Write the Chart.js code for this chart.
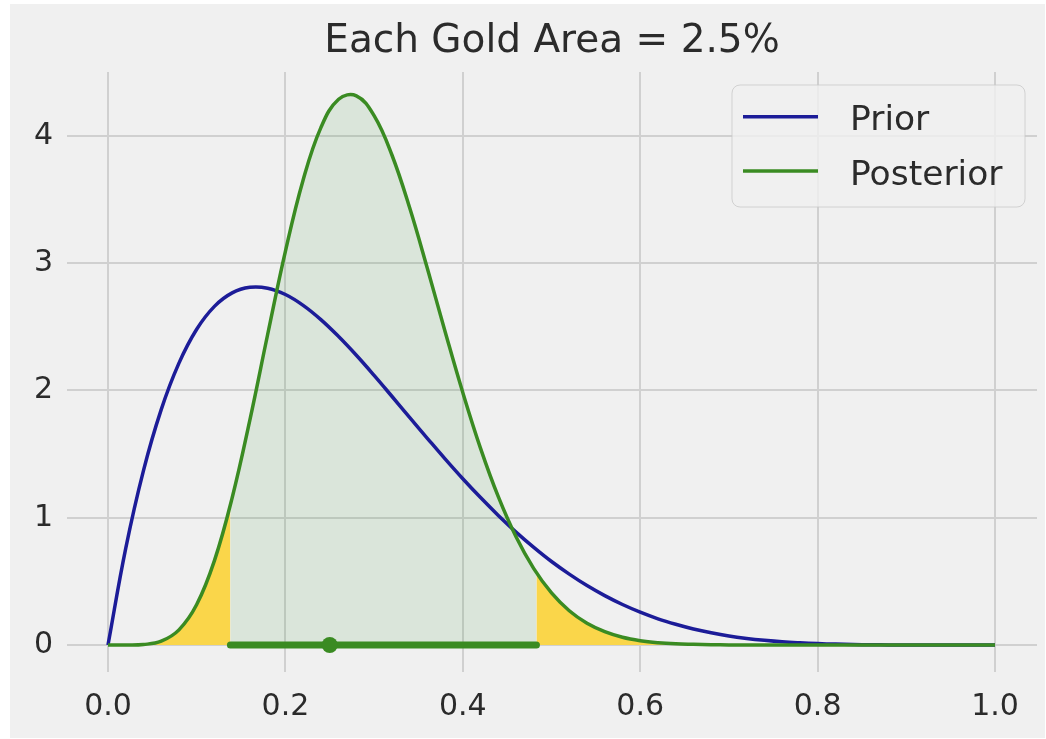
<!DOCTYPE html>
<html>
<head>
<meta charset="utf-8">
<script src="https://cdn.jsdelivr.net/npm/chart.js@4.4.1/dist/chart.umd.min.js"></script>
<style>
  html, body { margin: 0; padding: 0; background: #ffffff; }
  #frame { position: absolute; left: 10px; top: 4px; width: 1035px; height: 734px; background: #f0f0f0; }
  canvas { display: block; }
</style>
</head>
<body>
<div id="frame"><canvas id="c" width="1035" height="734"></canvas></div>
<script>
// Density curves sampled on a grid of proportions
const xs = [0.00, 0.02, 0.04, 0.06, 0.08, 0.10, 0.12, 0.14, 0.16, 0.18,
            0.20, 0.22, 0.24, 0.26, 0.28, 0.30, 0.32, 0.34, 0.36, 0.38,
            0.40, 0.42, 0.44, 0.46, 0.48, 0.50, 0.52, 0.54, 0.56, 0.58,
            0.60, 0.62, 0.64, 0.66, 0.68, 0.70, 0.72, 0.74, 0.76, 0.78,
            0.80, 0.82, 0.84, 0.86, 0.88, 0.90, 0.92, 0.94, 0.96, 0.98, 1.00];

const prior = [0.000, 0.759, 1.370, 1.849, 2.214, 2.480, 2.660, 2.766, 2.810, 2.803,
               2.753, 2.668, 2.556, 2.423, 2.276, 2.118, 1.954, 1.788, 1.624, 1.462,
               1.306, 1.158, 1.018, 0.887, 0.767, 0.656, 0.557, 0.467, 0.388, 0.318,
               0.258, 0.206, 0.163, 0.126, 0.096, 0.071, 0.052, 0.037, 0.025, 0.017,
               0.011, 0.007, 0.004, 0.002, 0.001, 0.000, 0.000, 0.000, 0.000, 0.000, 0.000];

const posterior = [0.000, 0.000, 0.004, 0.030, 0.119, 0.318, 0.663, 1.157, 1.769, 2.439,
                   3.092, 3.653, 4.064, 4.287, 4.314, 4.158, 3.851, 3.436, 2.959, 2.463,
                   1.983, 1.545, 1.165, 0.850, 0.600, 0.409, 0.269, 0.171, 0.105, 0.061,
                   0.034, 0.018, 0.009, 0.005, 0.002, 0.001, 0.000, 0.000, 0.000, 0.000,
                   0.000, 0.000, 0.000, 0.000, 0.000, 0.000, 0.000, 0.000, 0.000, 0.000, 0.000];

// 95% interval of the posterior and its point estimate
const ciLow = 0.138, ciHigh = 0.483;
const postAtLow = 1.10, postAtHigh = 0.57;
const pointEstimate = 0.25;

const xTicks = [0.0, 0.2, 0.4, 0.6, 0.8, 1.0];
const yTicks = [0, 1, 2, 3, 4];
const legendOrder = ['Prior', 'Posterior'];
const titleText = 'Each Gold Area = 2.5%';

const GREEN = '#3a8b22';
const BLUE = '#1c1c98';
const GOLD = '#fad64a';
const FONT = 'DejaVu Sans';
const TEXT = '#2b2b2b';

const toPoints = ys => xs.map((x, i) => ({ x: x, y: ys[i] }));
const postPts = toPoints(posterior);
const priorPts = toPoints(prior);

const leftTail = postPts.filter(p => p.x < ciLow).concat([{ x: ciLow, y: postAtLow }]);
const middle = [{ x: ciLow, y: postAtLow }]
  .concat(postPts.filter(p => p.x > ciLow && p.x < ciHigh))
  .concat([{ x: ciHigh, y: postAtHigh }]);
const rightTail = [{ x: ciHigh, y: postAtHigh }].concat(postPts.filter(p => p.x > ciHigh));

const area = (data, color, order) => ({
  data: data, fill: 'origin', backgroundColor: color, borderWidth: 0,
  pointRadius: 0, tension: 0.4, order: order
});

// Title centred over the plot area
const titlePlugin = {
  id: 'axesTitle',
  afterDraw(chart) {
    const { ctx, chartArea } = chart;
    ctx.save();
    ctx.font = '39px "' + FONT + '"';
    ctx.fillStyle = TEXT;
    ctx.textAlign = 'center';
    ctx.textBaseline = 'alphabetic';
    ctx.fillText(titleText, (chartArea.left + chartArea.right) / 2, 47.5);
    ctx.restore();
  }
};

// Framed legend in the upper right of the plot
const legendPlugin = {
  id: 'boxLegend',
  afterDraw(chart) {
    const { ctx } = chart;
    const items = legendOrder.map(name => chart.data.datasets.find(d => d.label === name));
    const x0 = 722, y0 = 81, w = 293, h = 122, r = 8;
    ctx.save();
    ctx.beginPath();
    ctx.roundRect(x0, y0, w, h, r);
    ctx.fillStyle = 'rgba(240,240,240,0.8)';
    ctx.fill();
    ctx.lineWidth = 1;
    ctx.strokeStyle = 'rgba(200,200,200,0.8)';
    ctx.stroke();
    ctx.font = '34.5px "' + FONT + '"';
    ctx.textBaseline = 'alphabetic';
    ctx.textAlign = 'left';
    items.forEach((d, i) => {
      const ly = 112.7 + i * 54.3;
      ctx.beginPath();
      ctx.moveTo(733, ly);
      ctx.lineTo(808, ly);
      ctx.lineWidth = 3.5;
      ctx.strokeStyle = d.borderColor;
      ctx.stroke();
      ctx.fillStyle = TEXT;
      ctx.fillText(d.label, 840, ly + 13.5);
    });
    ctx.restore();
  }
};

const gridCfg = { color: '#d0d0d0', lineWidth: 2, drawTicks: false };
const tickFont = { family: FONT, size: 30 };

new Chart(document.getElementById('c'), {
  type: 'line',
  data: {
    datasets: [
      { data: [{ x: pointEstimate, y: 0 }], showLine: false, pointRadius: 8,
        pointBackgroundColor: GREEN, pointBorderWidth: 0, order: 0 },
      { data: [{ x: ciLow, y: 0 }, { x: ciHigh, y: 0 }], borderColor: GREEN,
        borderWidth: 7, borderCapStyle: 'round', pointRadius: 0, order: 1 },
      { label: 'Posterior', data: postPts, borderColor: GREEN, borderWidth: 3.5,
        pointRadius: 0, tension: 0.4, fill: false, order: 2 },
      { label: 'Prior', data: priorPts, borderColor: BLUE, borderWidth: 3.5,
        pointRadius: 0, tension: 0.4, fill: false, order: 3 },
      area(leftTail, GOLD, 4),
      area(middle, 'rgba(34,139,34,0.1)', 5),
      area(rightTail, GOLD, 6)
    ]
  },
  options: {
    responsive: false,
    animation: false,
    devicePixelRatio: 1,
    layout: { padding: { top: 68, right: 7, bottom: 0, left: 0 } },
    plugins: { legend: { display: false }, tooltip: { enabled: false }, title: { display: false } },
    scales: {
      x: {
        type: 'linear', min: -0.0462, max: 1.0473,
        afterBuildTicks: s => { s.ticks = xTicks.map(v => ({ value: v })); },
        afterFit: s => { s.height = 66; s.paddingLeft = 0; s.paddingRight = 0; },
        grid: gridCfg, border: { display: false },
        ticks: { padding: 17, color: TEXT, font: tickFont, maxRotation: 0, autoSkip: false,
                 callback: v => v.toFixed(1) }
      },
      y: {
        type: 'linear', min: -0.212, max: 4.501,
        afterBuildTicks: s => { s.ticks = yTicks.map(v => ({ value: v })); },
        afterFit: s => { s.width = 57; s.paddingTop = 0; s.paddingBottom = 0; },
        grid: gridCfg, border: { display: false },
        ticks: { padding: 14, color: TEXT, font: tickFont, callback: v => String(v) }
      }
    }
  },
  plugins: [titlePlugin, legendPlugin]
});
</script>
</body>
</html>
